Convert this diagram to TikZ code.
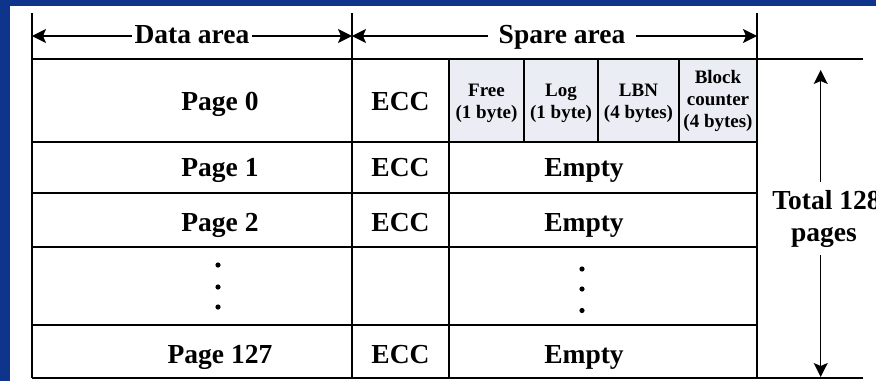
\documentclass[tikz,border=0pt]{standalone}
\usepackage{fontspec}
\setmainfont{Liberation Serif}
\usetikzlibrary{arrows.meta}
\definecolor{bgblue}{RGB}{14,52,140}
\definecolor{cellgray}{RGB}{234,237,243}
\begin{document}
\begin{tikzpicture}[x=1pt,y=-1pt, line width=1.3pt,
  lbl/.style={font=\fontsize{27.5}{30}\selectfont\bfseries, inner sep=0pt, anchor=base},
  small/.style={font=\fontsize{19}{22}\selectfont\bfseries, align=center, inner sep=0pt},
  arr/.style={-{Stealth[length=14pt,width=14pt,inset=3pt]}, line width=1.3pt},
  dbl/.style={{Stealth[length=14pt,width=14pt,inset=3pt]}-{Stealth[length=14pt,width=14pt,inset=3pt]}, line width=1.3pt},
  grid/.style={line width=1.4pt}]
\useasboundingbox (0,0) rectangle (876,381);
\fill[bgblue] (0,0) rectangle (876,381);
\fill[white] (10,6) rectangle (876,381);
\clip (0,0) rectangle (876,381);
% grey cells
\fill[cellgray] (449,59) rectangle (757,142);
% verticals
\draw[grid] (32,13) -- (32,378);
\draw[grid] (352,13) -- (352,378);
\draw[grid] (757,13) -- (757,378);
\draw[grid] (449,59) -- (449,378);
\draw[grid] (524,59) -- (524,142);
\draw[grid] (598,59) -- (598,142);
\draw[grid] (679,59) -- (679,142);
% horizontals
\draw[grid] (32,59) -- (863,59);
\foreach \yy in {142,193,247,325} \draw[grid] (32,\yy) -- (757,\yy);
\draw[grid] (32,378) -- (863,378);
% header arrows
\coordinate (dL) at (32,36);
\coordinate (dR) at (352,36);
\coordinate (sR) at (757,36);
\draw[dbl] (dL) -- (dR);
\draw[dbl] (dR) -- (sR);
\node[lbl, fill=white, inner xsep=3pt] (data) at (192,43.3) {Data area};
\node[lbl, fill=white, inner xsep=11pt] (spare) at (562,43.3) {Spare area};
% rows
\node[lbl] (p0) at (220,110.7) {Page 0};
\node[lbl] (e0) at (400.5,110.7) {ECC};
\node[lbl] (p1) at (220,176.7) {Page 1};
\node[lbl] (e1) at (400.5,176.7) {ECC};
\node[lbl] (m1) at (584,176.7) {Empty};
\node[lbl] (p2) at (220,231.7) {Page 2};
\node[lbl] (e2) at (400.5,231.7) {ECC};
\node[lbl] (m2) at (584,231.7) {Empty};
\node[lbl] (p127) at (220,363.3) {Page 127};
\node[lbl] (e127) at (400.5,363.3) {ECC};
\node[lbl] (m127) at (584,363.3) {Empty};
% grey cell texts
\node[small] (free) at (486.5,103) {Free\\(1 byte)};
\node[small] (log) at (561,103) {Log\\(1 byte)};
\node[small] (lbn) at (638.5,103) {LBN\\(4 bytes)};
\node[small] (blk) at (718,100.5) {Block\\counter\\(4 bytes)};
% dots
\foreach \yy in {265,287,307} \fill (218,\yy) circle (2.6);
\foreach \yy in {269,289,310.5} \fill (582,\yy) circle (2.6);
% total
\node[lbl, anchor=base west] (tot1) at (771.7,209.3) {Total 128};
\node[lbl] (tot2) at (824,241.7) {pages};
\coordinate (upS) at (820.7,182);
\coordinate (upT) at (820.7,70);
\coordinate (dnS) at (820.7,255);
\coordinate (dnT) at (820.7,377);
\draw[arr] (upS) -- (upT);
\draw[arr] (dnS) -- (dnT);
\end{tikzpicture}
\end{document}
